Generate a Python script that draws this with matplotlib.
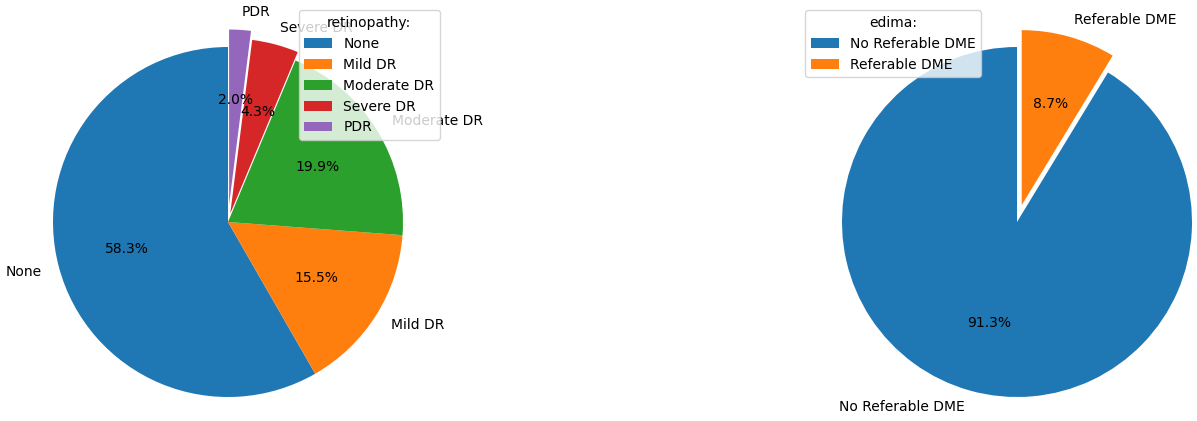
import matplotlib
matplotlib.use("Agg")
import matplotlib.pyplot as plt

retino_labels = ["None", "Mild DR", "Moderate DR", "Severe DR", "PDR"]
retino_values = [58.3, 15.5, 19.9, 4.3, 2.0]
retino_explode = [0, 0, 0, 0.05, 0.1]

edema_labels = ["No Referable DME", "Referable DME"]
edema_values = [91.3, 8.7]
edema_explode = [0, 0.1]

W, H = 1197, 421
fig = plt.figure(figsize=(W / 100, H / 100), dpi=100)

size = 437.5
ax1 = fig.add_axes([(228 - size / 2) / W, (H - 222 - size / 2) / H, size / W, size / H])
ax2 = fig.add_axes([(1017 - size / 2) / W, (H - 222 - size / 2) / H, size / W, size / H])

ax1.pie(retino_values, labels=retino_labels, explode=retino_explode,
        autopct="%1.1f%%", startangle=90)
ax1.legend(title="retinopathy:", loc="upper right")
ax1.set_aspect("equal")

ax2.pie(edema_values, labels=edema_labels, explode=edema_explode,
        autopct="%1.1f%%", startangle=90)
ax2.legend(title="edima:", loc="upper left")
ax2.set_aspect("equal")

fig.savefig("out.png", dpi=100)
